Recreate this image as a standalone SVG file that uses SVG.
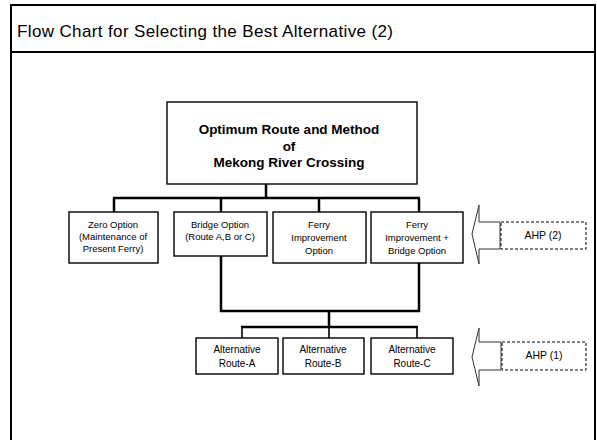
<svg xmlns="http://www.w3.org/2000/svg" width="597" height="440" viewBox="0 0 597 440">
  <style>
    .frame { fill: none; stroke: #000; stroke-width: 2; }
    .box { fill: #fff; stroke: #000; stroke-width: 1.4; }
    .dash { fill: #fff; stroke: #000; stroke-width: 1; stroke-dasharray: 3 2; }
    .arrow { fill: #fff; stroke: #333; stroke-width: 1; }
    .wire { fill: none; stroke: #000; stroke-width: 2.5; }
    .thin { fill: none; stroke: #000; stroke-width: 1.6; }
    text { font-family: "Liberation Sans", Arial, sans-serif; fill: #000; text-anchor: middle; }
    .title { font-size: 17px; text-anchor: start; }
    .head { font-size: 13.5px; font-weight: bold; }
    .lbl { font-size: 9.5px; }
    .alt { font-size: 10px; }
    .ahp { font-size: 10.5px; }
  </style>

  <!-- page frame and title band -->
  <g id="frame">
    <path class="frame" d="M11,441 V5 H595 V441"/>
    <line class="frame" x1="11" y1="52" x2="595" y2="52"/>
    <text class="title" x="17" y="37" textLength="376" lengthAdjust="spacing">Flow Chart for Selecting the Best Alternative (2)</text>
  </g>

  <!-- connectors -->
  <g id="connectors">
    <line class="wire" x1="266" y1="184" x2="266" y2="198"/>
    <line class="wire" x1="113" y1="198" x2="420" y2="198"/>
    <line class="wire" x1="114" y1="198" x2="114" y2="212"/>
    <line class="wire" x1="221" y1="198" x2="221" y2="212"/>
    <line class="wire" x1="319" y1="198" x2="319" y2="212"/>
    <line class="wire" x1="419" y1="198" x2="419" y2="212"/>
    <path class="wire" d="M221,256 V311 H419 V263"/>
    <line class="wire" x1="329" y1="311" x2="329" y2="327"/>
    <line class="wire" x1="241" y1="327" x2="418" y2="327"/>
    <line class="thin" x1="242" y1="327" x2="242" y2="338"/>
    <line class="thin" x1="329" y1="327" x2="329" y2="338"/>
    <line class="thin" x1="417" y1="327" x2="417" y2="338"/>
  </g>

  <g id="goal">
    <rect class="box" x="167" y="102" width="250" height="82" stroke-width="2.2"/>
    <text class="head" x="289" y="134">Optimum Route and Method</text>
    <text class="head" x="289" y="151">of</text>
    <text class="head" x="289" y="167">Mekong River Crossing</text>
  </g>

  <g id="zero-option">
    <rect class="box" x="69" y="212" width="89" height="51"/>
    <text class="lbl" x="113" y="228">Zero Option</text>
    <text class="lbl" x="113" y="240">(Maintenance of</text>
    <text class="lbl" x="113" y="252">Present Ferry)</text>
  </g>

  <g id="bridge-option">
    <rect class="box" x="174" y="212" width="93" height="44"/>
    <text class="lbl" x="220" y="228">Bridge Option</text>
    <text class="lbl" x="220" y="240">(Route A,B or C)</text>
  </g>

  <g id="ferry-option">
    <rect class="box" x="273" y="212" width="93" height="51"/>
    <text class="lbl" x="319" y="228">Ferry</text>
    <text class="lbl" x="319" y="241">Improvement</text>
    <text class="lbl" x="319" y="254">Option</text>
  </g>

  <g id="ferry-bridge-option">
    <rect class="box" x="371" y="212" width="92" height="51"/>
    <text class="lbl" x="417" y="228">Ferry</text>
    <text class="lbl" x="417" y="241">Improvement +</text>
    <text class="lbl" x="417" y="254">Bridge Option</text>
  </g>

  <g id="route-a">
    <rect class="box" x="196" y="338" width="82" height="36"/>
    <text class="alt" x="237" y="353">Alternative</text>
    <text class="alt" x="237" y="367">Route-A</text>
  </g>

  <g id="route-b">
    <rect class="box" x="283" y="338" width="81" height="36"/>
    <text class="alt" x="323" y="353">Alternative</text>
    <text class="alt" x="323" y="367">Route-B</text>
  </g>

  <g id="route-c">
    <rect class="box" x="371" y="338" width="82" height="36"/>
    <text class="alt" x="412" y="353">Alternative</text>
    <text class="alt" x="412" y="367">Route-C</text>
  </g>

  <!-- AHP (2) feeds the option level -->
  <g id="ahp2">
    <path class="arrow" d="M472,234 L479,205 V222 H500 V249 H479 V264 Z"/>
    <rect class="dash" x="501" y="222" width="85" height="27"/>
    <text class="ahp" x="543" y="239">AHP (2)</text>
  </g>

  <!-- AHP (1) feeds the route level -->
  <g id="ahp1">
    <path class="arrow" d="M472,357 L479,328 V342 H501 V370 H479 V386 Z"/>
    <rect class="dash" x="502" y="342" width="84" height="28"/>
    <text class="ahp" x="544" y="359">AHP (1)</text>
  </g>
</svg>
